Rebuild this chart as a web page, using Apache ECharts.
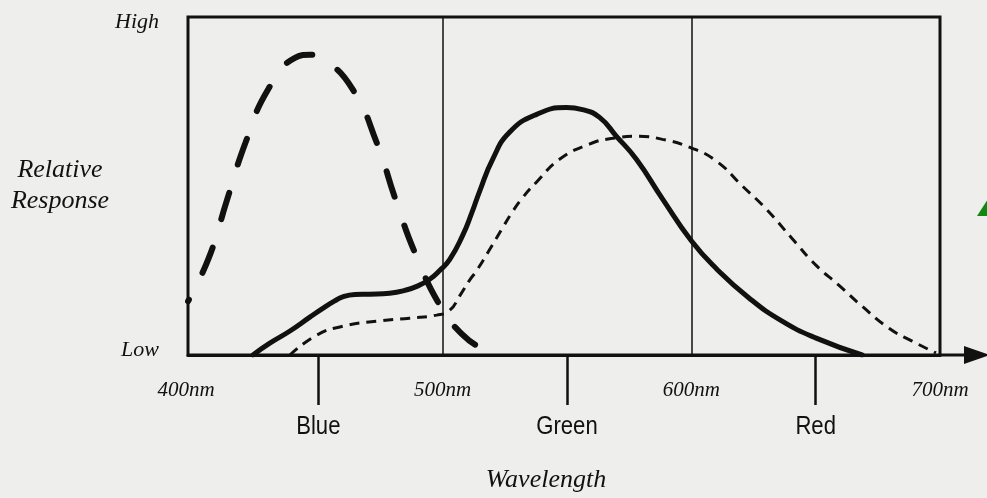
<!DOCTYPE html>
<html>
<head>
<meta charset="utf-8">
<script src="https://cdn.jsdelivr.net/npm/echarts@6/dist/echarts.min.js"></script>
<style>
html,body{margin:0;padding:0;background:#eeeeec;}
#c{width:987px;height:498px;}
</style>
</head>
<body>
<div id="c"></div>
<script>
// ---- data (wavelength in nm, relative response 0..100) ----
var nmTicks = [400, 500, 600, 700];
var colorTicks = [450, 550, 650];
var colorNames = ['Blue', 'Green', 'Red'];
var dividers = [500, 600];

var blueNm  = [397.6, 406.0, 413.3, 420.7, 429.9, 440.6, 446.6, 452.6, 463.9, 473.5, 481.1, 489.4, 499.6, 508.0, 515.3, 521.7];
var blueVal = [15.9, 28.8, 45.9, 62.8, 78.7, 87.9, 88.8, 87.4, 78.5, 62.8, 45.9, 29.3, 13.8, 6.0, 2.1, 0];

var greenNm  = [423.7, 430.5, 438.6, 446.6, 451.8, 456.6, 459.8, 464.7, 470.7, 478.7, 484.7, 489.6, 494.8, 498.8, 502.8, 508.0, 511.6, 514.9, 520.1, 526.9, 537.8, 549.8, 556.2, 563.1, 569.9, 577.9, 588.4, 600.0, 610.0, 623.3, 636.5, 650.2, 668.7];
var greenVal = [0, 3.5, 7.1, 11.2, 13.8, 16.0, 17.2, 17.9, 18.0, 18.3, 19.1, 20.3, 22.4, 25.0, 28.2, 35.3, 41.8, 48.5, 57.9, 65.9, 71.2, 73.2, 72.6, 70.3, 64.7, 57.9, 46.2, 33.8, 25.6, 16.8, 10.0, 5.0, 0];

var redNm  = [438.6, 449.4, 459.8, 473.5, 486.7, 497.6, 502.8, 506.8, 510.8, 513.7, 518.9, 524.1, 528.1, 532.1, 537.8, 547.0, 559.0, 568.3, 579.1, 588.4, 599.2, 610.0, 620.5, 630.1, 640.6, 650.2, 659.4, 668.7, 679.5, 688.8, 698.4];
var redVal = [0, 5.9, 8.5, 10.0, 10.9, 11.8, 13.2, 17.4, 22.1, 25.0, 31.2, 37.6, 42.4, 46.5, 51.2, 57.9, 62.4, 64.1, 64.7, 63.8, 61.5, 57.4, 50.0, 43.2, 34.4, 26.5, 20.6, 14.4, 7.9, 4.1, 0.6];

function pairs(xs, ys) { return xs.map(function (x, i) { return [x, ys[i]]; }); }

var INK = '#111111';
var SERIF = '"Liberation Serif", "Times New Roman", serif';
var SANS = '"Liberation Sans", Arial, sans-serif';

var chart = echarts.init(document.getElementById('c'), null, {renderer: 'canvas'});
var xMin = 397.6, xMax = 700;

chart.setOption({
  backgroundColor: '#eeeeec',
  animation: false,
  grid: {left: 188, top: 17, width: 752, height: 340, show: true, borderColor: INK, borderWidth: 3, backgroundColor: 'transparent'},
  xAxis: [{
    type: 'value', min: xMin, max: xMax, position: 'bottom',
    axisLine: {show: true, lineStyle: {color: INK, width: 3}},
    axisTick: {show: false},
    splitLine: {show: false},
    axisLabel: {
      customValues: nmTicks, margin: 25, showMaxLabel: true, showMinLabel: true,
      formatter: function (v) { return v === 400 ? '{f|' + v + 'nm}' : v + 'nm'; },
      fontFamily: SERIF, fontStyle: 'italic', fontSize: 21, color: INK,
      rich: {f: {fontFamily: SERIF, fontStyle: 'italic', fontSize: 21, color: INK, padding: [0, 16, 0, 0]}}
    }
  }, {
    type: 'value', min: xMin, max: xMax, position: 'bottom',
    axisLine: {show: false},
    splitLine: {show: false},
    axisTick: {show: true, customValues: colorTicks, length: 50, lineStyle: {color: INK, width: 2.5}},
    axisLabel: {show: false},
    name: 'Wavelength', nameLocation: 'middle', nameGap: 112,
    nameTextStyle: {fontFamily: SERIF, fontStyle: 'italic', fontSize: 26, color: INK, padding: [0, 36, 0, 0]}
  }],
  yAxis: {
    type: 'value', min: 0, max: 100,
    axisLine: {show: false}, axisTick: {show: false}, splitLine: {show: false},
    axisLabel: {
      customValues: [0, 100], margin: 29,
      formatter: function (v) { return v === 100 ? '{h|High}' : '{l|Low}'; },
      rich: {
        h: {fontFamily: SERIF, fontStyle: 'italic', fontSize: 22, color: INK, padding: [10, 0, 0, 0]},
        l: {fontFamily: SERIF, fontStyle: 'italic', fontSize: 22, color: INK, padding: [0, 0, 10, 0]}
      }
    },
    name: 'Relative\nResponse', nameLocation: 'middle', nameRotate: 0, nameGap: 122,
    nameTextStyle: {fontFamily: SERIF, fontStyle: 'italic', fontSize: 26, color: INK, align: 'center', lineHeight: 31, padding: [0, 0, 44, 0]}
  },
  series: [{
    name: 'Blue', type: 'line', xAxisIndex: 0, smooth: 0.5, showSymbol: false, silent: true,
    data: pairs(blueNm, blueVal),
    lineStyle: {color: INK, width: 6, type: [27, 30], dashOffset: 25, cap: 'round'},
    markLine: {
      silent: true, symbol: 'none', label: {show: false},
      lineStyle: {color: INK, width: 1.5, type: 'solid'},
      data: dividers.map(function (d) { return {xAxis: d}; })
    }
  }, {
    name: 'Green', type: 'line', xAxisIndex: 0, smooth: 0.5, showSymbol: false, silent: true,
    data: pairs(greenNm, greenVal),
    lineStyle: {color: INK, width: 5, cap: 'round', join: 'round'}
  }, {
    name: 'Red', type: 'line', xAxisIndex: 0, smooth: 0.5, showSymbol: false, silent: true,
    data: pairs(redNm, redVal),
    lineStyle: {color: INK, width: 3, type: [10, 7]}
  }]
});

// condensed colour-name labels under the ticks, placed through the axis scale
var baseY = chart.convertToPixel({yAxisIndex: 0}, 0);
var gfx = [
  {type: 'line', shape: {x1: 940, y1: baseY, x2: 970, y2: baseY}, style: {stroke: INK, lineWidth: 3}, z: 10},
  {type: 'polygon', shape: {points: [[964, baseY - 9], [990, baseY], [964, baseY + 9]]}, style: {fill: INK}, z: 10},
  {type: 'polygon', shape: {points: [[977, 216], [990, 216], [990, 196]]}, style: {fill: '#118811'}, z: 10}
];
colorTicks.forEach(function (v, i) {
  gfx.push({
    type: 'text', x: chart.convertToPixel({xAxisIndex: 0}, v), y: baseY + 72, scaleX: 0.85,
    style: {text: colorNames[i], font: '26px ' + SANS, fill: INK, align: 'center', verticalAlign: 'middle'}
  });
});
chart.setOption({graphic: gfx});
</script>
</body>
</html>
